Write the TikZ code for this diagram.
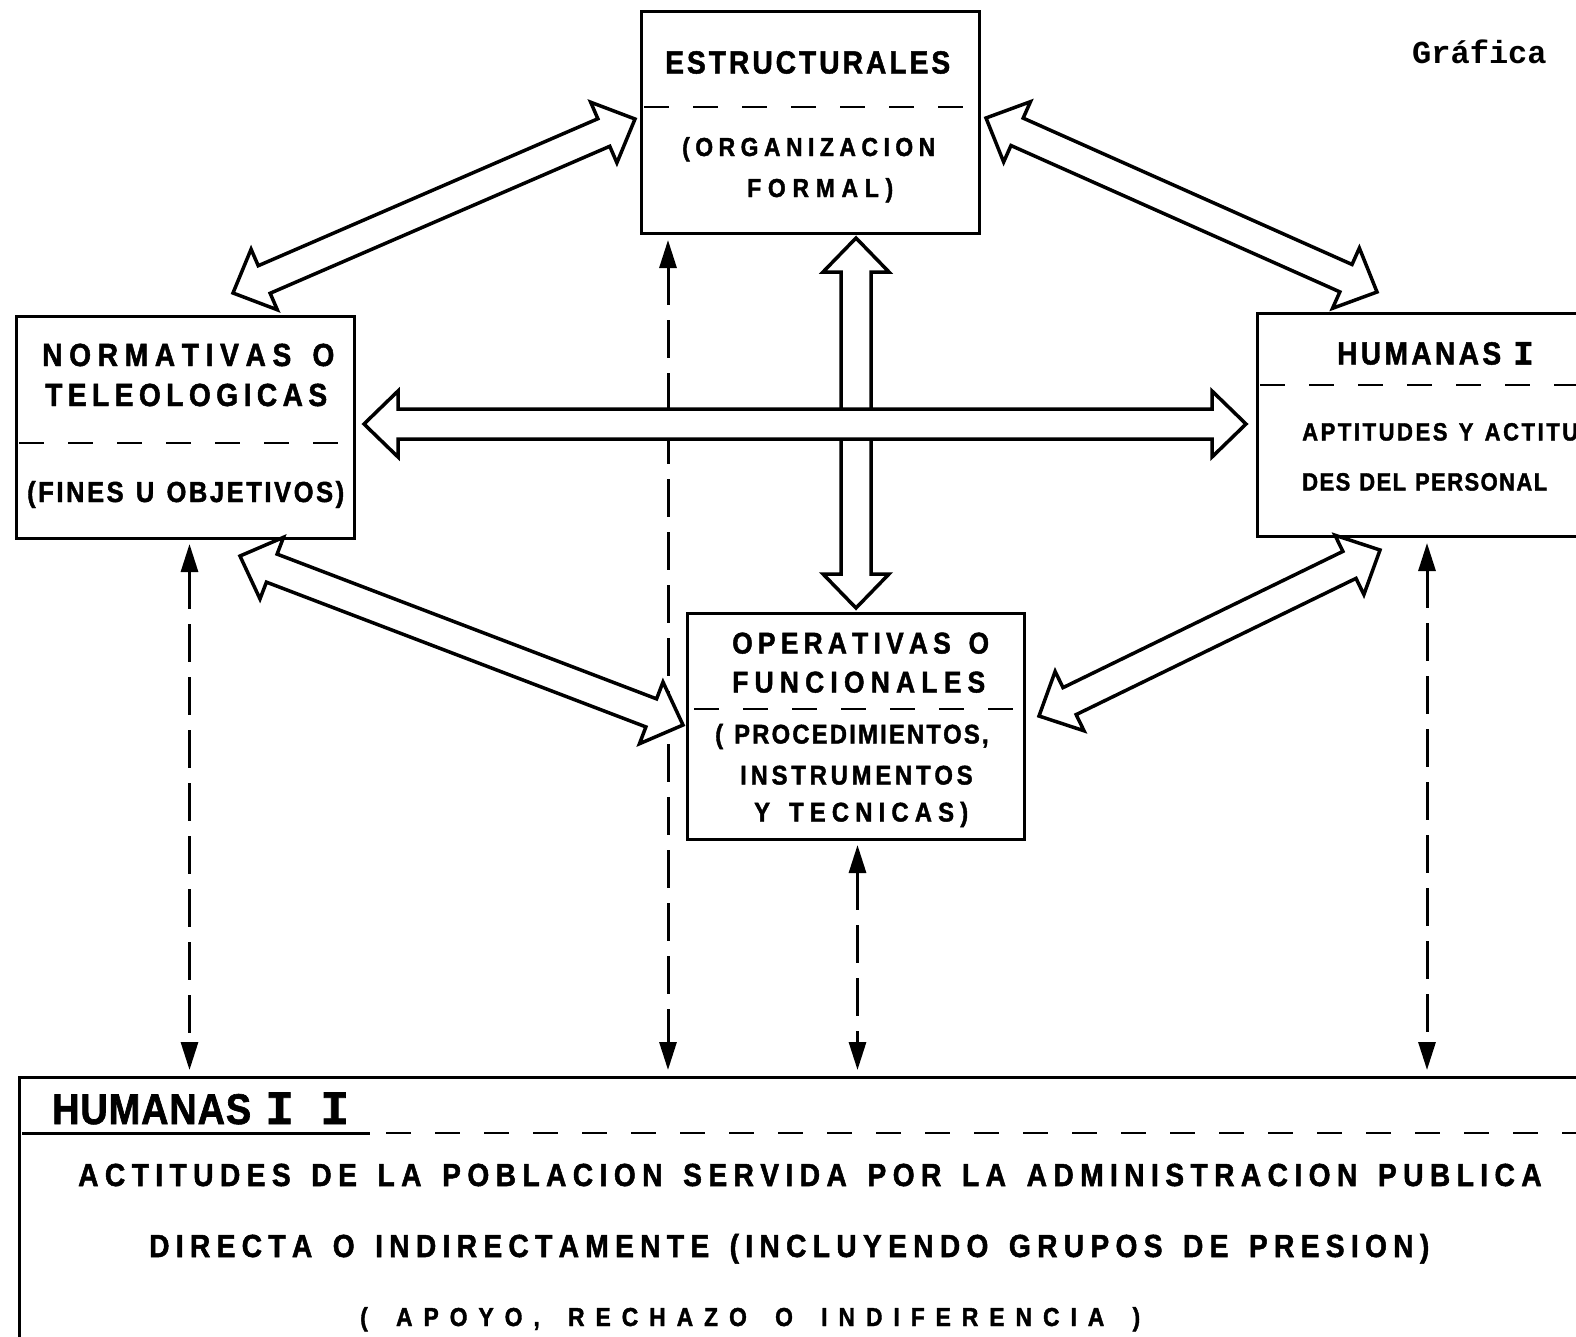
\documentclass[tikz,border=0pt]{standalone}
\usepackage{fontspec}
\usetikzlibrary{calc,arrows.meta}
\newfontfamily\lblfont{Liberation Sans}[FakeStretch=0.88, FakeBold=1.5]
\newfontfamily\slabfont{Liberation Mono}[FakeBold=1.5]
\newfontfamily\typefont{Liberation Mono}

% letter-spaced text stretched to a given total width
\ExplSyntaxOn
\dim_new:N \l_lbl_gap_dim
\box_new:N \l_lbl_box
\NewDocumentCommand\spreadto{mm}
 {
  \hbox_set:Nn \l_lbl_box {#2}
  \dim_set:Nn \l_lbl_gap_dim { ( #1 - \box_wd:N \l_lbl_box ) / ( \str_count:n {#2} - 1 ) }
  \str_map_inline:nn {#2} { ##1 \kern \l_lbl_gap_dim }
  \unkern
 }
\ExplSyntaxOff

% hollow double-headed block arrow between two named points
\newcommand\blockarrow[2]{%
  \coordinate (bap) at ($(#1)!34pt!(#2)$);
  \coordinate (baq) at ($(#2)!34pt!(#1)$);
  \filldraw[blk] (#1)
    -- ($(bap)!33pt!90:(#2)$) -- ($(bap)!15pt!90:(#2)$)
    -- ($(baq)!15pt!-90:(#1)$) -- ($(baq)!33pt!-90:(#1)$)
    -- (#2)
    -- ($(baq)!33pt!90:(#1)$) -- ($(baq)!15pt!90:(#1)$)
    -- ($(bap)!15pt!-90:(#2)$) -- ($(bap)!33pt!-90:(#2)$)
    -- cycle;}

\tikzset{
  box/.style={draw, line width=3pt, inner sep=0pt, anchor=north west},
  sep/.style={line width=2.5pt, dash pattern=on 25pt off 24pt},
  lbl/.style={inner sep=0pt, anchor=base west,
    font=\lblfont\bfseries\fontsize{#1}{#1}\selectfont},
  blk/.style={line width=3.5pt, draw=black, fill=white, line join=miter},
  dashconn/.style={line width=3pt, dash pattern=on 38pt off 15pt,
    {Triangle[length=28pt,width=17pt]}-{Triangle[length=28pt,width=17pt]}},
}

\begin{document}
\begin{tikzpicture}[x=1pt, y=-1pt]
\useasboundingbox (0,0) rectangle (1576,1336);
\fill[white] (0,0) rectangle (1576,1336);
\clip (0,0) rectangle (1576,1336);

% boxes
\node[box, minimum width=338pt, minimum height=222pt] (E)  at (640,10) {};
\node[box, minimum width=338pt, minimum height=222pt] (N)  at (15,315) {};
\node[box, minimum width=344pt, minimum height=223pt] (H1) at (1256,312) {};
\node[box, minimum width=337pt, minimum height=226pt] (O)  at (686,612) {};
\node[box, minimum width=1600pt, minimum height=300pt] (H2) at (18,1076) {};

% separators inside the boxes
\draw[sep] ($(E.north west)+(4,97)$) -- ($(E.north east)+(-4,97)$);
\draw[sep] ($(N.north west)+(4,128)$) -- ($(N.north east)+(-4,128)$);
\draw[sep] ($(H1.north west)+(4,73)$) -- ($(H1.north east)+(-4,73)$);
\draw[sep] ($(O.north west)+(8,97)$) -- ($(O.north east)+(-4,97)$);
\draw[line width=3pt] ($(H2.north west)+(4,57)$) -- ($(H2.north west)+(352,57)$);
\draw[sep] ($(H2.north west)+(368,57)$) -- ($(H2.north east)+(0,57)$);

% texts
\node[lbl=32] (Et1) at (665,73.5) {\spreadto{285pt}{ESTRUCTURALES}};
\node[lbl=26] (Et2) at (682,156) {\spreadto{253pt}{(ORGANIZACION}};
\node[lbl=26] (Et3) at (747,197) {\spreadto{146pt}{FORMAL)}};

\node[lbl=32] (Nt1) at (42,366) {\spreadto{288pt}{NORMATIVAS O}};
\node[lbl=32] (Nt2) at (45,406) {\spreadto{282pt}{TELEOLOGICAS}};
\node[lbl=29] (Nt3) at (27,502) {\spreadto{317pt}{(FINES U OBJETIVOS)}};

\node[lbl=32] (H1t1) at (1337,364.5) {\spreadto{164pt}{HUMANAS}\hspace{12pt}{\slabfont\fontsize{34}{34}\selectfont I}};
\node[lbl=25] (H1t2) at (1302,440.5) {\spreadto{276pt}{APTITUDES Y ACTITU}};
\node[lbl=25] (H1t3) at (1302,490.5) {\spreadto{245pt}{DES DEL PERSONAL}};

\node[lbl=30] (Ot1) at (732,653.5) {\spreadto{253pt}{OPERATIVAS  O}};
\node[lbl=30] (Ot2) at (732,692.5) {\spreadto{253pt}{FUNCIONALES}};
\node[lbl=27] (Ot3) at (715,743.5) {\spreadto{273pt}{( PROCEDIMIENTOS,}};
\node[lbl=27] (Ot4) at (740,784.5) {\spreadto{232pt}{INSTRUMENTOS}};
\node[lbl=27] (Ot5) at (754,821.5) {\spreadto{214pt}{Y  TECNICAS)}};

\node[lbl=43] (H2t1) at (52,1124) {\spreadto{199pt}{HUMANAS}\hspace{14pt}\makebox[84pt][l]{\slabfont\fontsize{48}{48}\selectfont I\hfill I}};
\node[lbl=32] (H2t2) at (78,1186) {\spreadto{1463pt}{ACTITUDES DE LA POBLACION SERVIDA POR LA ADMINISTRACION PUBLICA}};
\node[lbl=32] (H2t3) at (149,1257) {\spreadto{1276pt}{DIRECTA O INDIRECTAMENTE (INCLUYENDO GRUPOS DE PRESION)}};
\node[lbl=26] (H2t4) at (360,1326) {\spreadto{780pt}{( APOYO, RECHAZO O INDIFERENCIA )}};

\node[inner sep=0pt, anchor=base west, font=\typefont\bfseries\fontsize{32}{32}\selectfont] (graf) at (1412,63) {Gráfica};

% dashed links down to the bottom box
\draw[dashconn] ($(N.south)+(4,4)$) -- ($(N.south |- H2.north)+(4,-6)$);
\draw[dashconn] ($(E.south west)+(28,5)$) -- ($(E.south west |- H2.north)+(28,-6)$);
\draw[dashconn] ($(O.south)+(1.5,4)$) -- ($(O.south |- H2.north)+(1.5,-6)$);
\draw[dashconn] ($(H1.south west)+(171,5)$) -- ($(H1.south west |- H2.north)+(171,-6)$);

% block arrows between the four upper boxes
\coordinate (a1n) at (233,293);  \coordinate (a1e) at (635,119);
\coordinate (a2e) at (986,118);  \coordinate (a2h) at (1377,292);
\coordinate (a3n) at (240,556);  \coordinate (a3o) at (683,725);
\coordinate (a4o) at (1039,716); \coordinate (a4h) at (1380,550);
\coordinate (hvn) at (364,424);  \coordinate (hvh) at (1246,424);
\coordinate (vve) at (856,238);  \coordinate (vvo) at (856,608);

\blockarrow{a1n}{a1e}
\blockarrow{a2e}{a2h}
\blockarrow{a3n}{a3o}
\blockarrow{a4o}{a4h}
\blockarrow{vve}{vvo}
\blockarrow{hvn}{hvh}
\end{tikzpicture}
\end{document}
